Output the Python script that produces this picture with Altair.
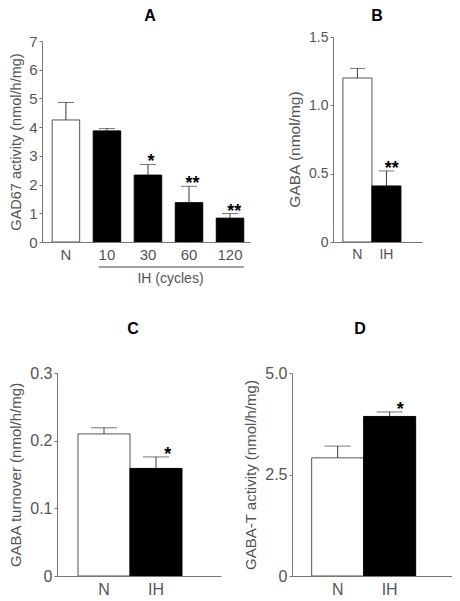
import altair as alt
import pandas as pd

W, H = 444, 592
FONT = "Liberation Sans"
TXT = "#555555"
LINE = "#777777"
ERR = "#3a3a3a"

# ---------------- data ----------------
a_groups = ["N", "10", "30", "60", "120"]
a_means = [4.25, 3.87, 2.33, 1.37, 0.83]
a_sems = [0.61, 0.08, 0.37, 0.57, 0.16]
a_sig = ["", "", "*", "**", "**"]
a_ticks = [0, 1, 2, 3, 4, 5, 6, 7]

b_groups = ["N", "IH"]
b_means = [1.20, 0.41]
b_sems = [0.07, 0.11]
b_sig = ["", "**"]
b_ticks = [0, 0.5, 1.0, 1.5]

c_groups = ["N", "IH"]
c_means = [0.210, 0.159]
c_sems = [0.009, 0.017]
c_sig = ["", "*"]
c_ticks = [0, 0.1, 0.2, 0.3]

d_groups = ["N", "IH"]
d_means = [2.91, 3.93]
d_sems = [0.29, 0.11]
d_sig = ["", "*"]
d_ticks = [0, 2.5, 5.0]

ih_bracket = pd.DataFrame({"start": ["10"], "end": ["120"]})


def make_df(groups, means, sems, sig):
    return pd.DataFrame({
        "g": groups,
        "m": means,
        "top": [m + s for m, s in zip(means, sems)],
        "sig": sig,
        "kind": ["N" if g == "N" else "IH" for g in groups],
    })


FMT1 = "datum.value == 0 ? '0' : format(datum.value, '.1f')"
fill_scale = alt.Scale(domain=["N", "IH"], range=["#ffffff", "#000000"])
stroke_scale = alt.Scale(domain=["N", "IH"], range=["#555555", "#000000"])


def panel(df, xr, pin, pout, align, yr, ydom, yticks, ytitle, label_expr,
          cap, title_pad, label_size=14, title_size=14, title_y=None,
          xtitle="", xtitle_x=0, xtitle_y=0, extra=None):
    def xs():
        return alt.Scale(domain=list(df["g"]), range=xr, paddingInner=pin,
                         paddingOuter=pout, align=align)

    def ys():
        return alt.Scale(domain=ydom, range=yr, nice=False, zero=False)

    xaxis_kw = dict(orient="bottom", offset=yr[0] - H, ticks=False, labelAngle=0,
                    labelFontSize=label_size, labelFont=FONT, labelColor=TXT,
                    labelPadding=5, domainColor=LINE, domainWidth=1,
                    titleFont=FONT, titleFontSize=14, zindex=1,
                    titleFontWeight="normal", titleColor=TXT)
    if xtitle:
        xaxis_kw.update(title=xtitle, titleX=xtitle_x, titleY=xtitle_y,
                        titleBaseline="middle", titleAlign="center")
    else:
        xaxis_kw.update(title=" ")
    xaxis = alt.Axis(**xaxis_kw)
    yaxis_kw = dict(orient="left", offset=-xr[0], values=yticks, tickSize=3,
                    tickColor=LINE, domainColor=LINE, domainWidth=1, zindex=1,
                    labelFontSize=label_size, labelFont=FONT, labelColor=TXT,
                    labelPadding=2, labelExpr=label_expr, labelOverlap=False,
                    grid=False, title=ytitle, titleFont=FONT,
                    titleFontSize=title_size,
                    titleFontWeight="normal", titleColor=TXT,
                    titlePadding=title_pad)
    if title_y is not None:
        yaxis_kw.update(titleY=title_y)
    yaxis = alt.Axis(**yaxis_kw)
    base = alt.Chart(df)
    bars = base.mark_bar(strokeWidth=1).encode(
        x=alt.X("g:N", scale=xs(), axis=xaxis),
        y=alt.Y("m:Q", scale=ys(), axis=yaxis),
        fill=alt.Fill("kind:N", scale=fill_scale, legend=None),
        stroke=alt.Stroke("kind:N", scale=stroke_scale, legend=None),
    )
    err = base.mark_rule(color=ERR, strokeWidth=1).encode(
        x=alt.X("g:N", scale=xs(), axis=None),
        y=alt.Y("m:Q", scale=ys(), axis=None), y2="top:Q")
    caps = base.mark_tick(size=cap, thickness=1, color=ERR).encode(
        x=alt.X("g:N", scale=xs(), axis=None),
        y=alt.Y("top:Q", scale=ys(), axis=None))
    stars = base.mark_text(font=FONT, fontSize=18, fontWeight="bold", color="black",
                           baseline="alphabetic", dy=3).encode(
        x=alt.X("g:N", scale=xs(), axis=None),
        y=alt.Y("top:Q", scale=ys(), axis=None), text="sig:N")
    layers = [bars, err, caps, stars]
    if extra is not None:
        layers.append(extra(xs()))
    return layers


def bracket(xs):
    return alt.Chart(ih_bracket).mark_rule(color="#444444", strokeWidth=1).encode(
        x=alt.X("start:N", scale=xs, axis=None, bandPosition=0.2),
        x2=alt.X2("end:N", bandPosition=1.0),
        y=alt.value(259),
    )


pA = panel(make_df(a_groups, a_means, a_sems, a_sig),
           xr=[34, 242], pin=0.33, pout=0.2, align=0.62,
           yr=[234, 33], ydom=[0, 7], yticks=a_ticks,
           ytitle="GAD67 activity (nmol/h/mg)", label_expr="datum.label",
           cap=16, title_pad=5.5, label_size=15, title_size=14.5,
           xtitle="IH (cycles)", xtitle_x=162, xtitle_y=36,
           extra=bracket)
pB = panel(make_df(b_groups, b_means, b_sems, b_sig),
           xr=[325, 414], pin=0.0, pout=0.534, align=0.32,
           yr=[234, 29], ydom=[0, 1.5], yticks=b_ticks,
           ytitle="GABA (nmol/mg)", label_expr=FMT1,
           cap=15, title_pad=6, label_size=14, title_size=15.5, title_y=141)
pC = panel(make_df(c_groups, c_means, c_sems, c_sig),
           xr=[49, 213], pin=0.0, pout=0.577, align=0.35,
           yr=[568, 365], ydom=[0, 0.3], yticks=c_ticks,
           ytitle="GABA turnover (nmol/h/mg)", label_expr=FMT1,
           cap=26, title_pad=6, label_size=16, title_size=15)
pD = panel(make_df(d_groups, d_means, d_sems, d_sig),
           xr=[284, 445], pin=0.0, pout=0.548, align=0.345,
           yr=[568, 365], ydom=[0, 5.0], yticks=d_ticks,
           ytitle="GABA-T activity (nmol/h/mg)", label_expr=FMT1,
           cap=26, title_pad=6, label_size=16, title_size=15)


def letter(t, x, y):
    return alt.Chart(pd.DataFrame({"t": [t]})).mark_text(
        font=FONT, fontSize=16, fontWeight="bold", color="black",
        baseline="middle", align="center").encode(
        text="t:N", x=alt.value(x), y=alt.value(y))


chart = alt.layer(
    *pA, *pB, *pC, *pD,
    letter("A", 142, 8), letter("B", 369, 8),
    letter("C", 125, 321), letter("D", 352, 321),
).resolve_scale(x="independent", y="independent").properties(
    width=W, height=H, padding=0, autosize=alt.AutoSizeParams(type="none"),
    background="white",
).configure_view(stroke=None)

chart.save("out.html", embed_options={"renderer": "svg", "actions": False})
